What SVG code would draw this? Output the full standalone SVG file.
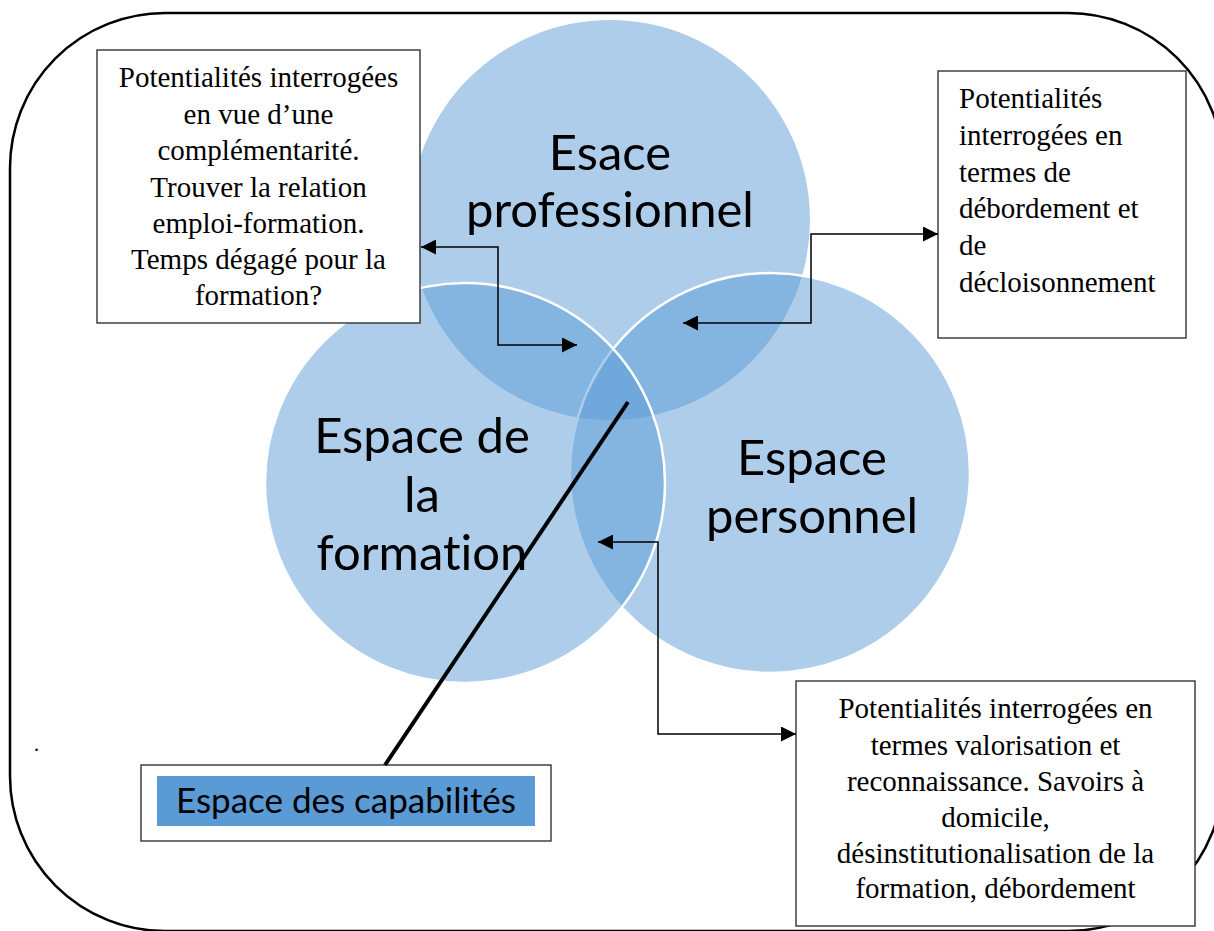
<svg xmlns="http://www.w3.org/2000/svg" width="1214" height="931" viewBox="0 0 1214 931">
<style>
.frame{fill:none;stroke:#000;stroke-width:2.5}
.circ{fill:#5b9bd5;fill-opacity:0.5}
.ring{stroke:#fff;stroke-width:2.5}
.lbl{font-family:Lato,"Liberation Sans",sans-serif;font-size:49px;fill:#000;text-anchor:middle;font-variant-ligatures:none}
.box{fill:#fff;stroke:#333;stroke-width:1.4}
.serif{font-family:"Liberation Serif","Times New Roman",serif;font-size:29px;fill:#000}
.mid{text-anchor:middle}
.conn{fill:none;stroke:#000;stroke-width:1.5}
.diag{stroke:#000;stroke-width:4}
</style>
<defs>
<marker id="arr" markerUnits="userSpaceOnUse" markerWidth="15" markerHeight="15" refX="15" refY="7.5" orient="auto-start-reverse">
<path d="M0,0 L15,7.5 L0,15 z" fill="#000"/>
</marker>
</defs>
<rect class="frame" x="10" y="13" width="1213" height="918" rx="155" ry="155"/>
<text x="34" y="751" font-family="Liberation Serif, serif" font-size="20" fill="#000">.</text>
<g id="circle-pro">
<circle class="circ" cx="610" cy="220" r="200"/>
</g>
<g id="circle-perso">
<circle class="circ ring" cx="770" cy="473" r="200"/>
</g>
<g id="circle-formation">
<circle class="circ ring" cx="465" cy="483" r="200"/>
</g>
<g id="labels-circles">
<text class="lbl" x="610" y="170">Esace</text>
<text class="lbl" x="610" y="227">professionnel</text>
<text class="lbl" x="422" y="453">Espace de</text>
<text class="lbl" x="422" y="512">la</text>
<text class="lbl" x="422" y="570">formation</text>
<text class="lbl" x="812" y="475">Espace</text>
<text class="lbl" x="812" y="533">personnel</text>
</g>
<g id="box-topleft">
<rect class="box" x="97" y="50" width="323" height="273"/>
<text class="serif mid" x="258.5" y="87">Potentialités interrogées</text>
<text class="serif mid" x="258.5" y="124">en vue d’une</text>
<text class="serif mid" x="258.5" y="160">complémentarité.</text>
<text class="serif mid" x="258.5" y="197">Trouver la relation</text>
<text class="serif mid" x="258.5" y="233">emploi-formation.</text>
<text class="serif mid" x="258.5" y="269">Temps dégagé pour la</text>
<text class="serif mid" x="258.5" y="305">formation?</text>
</g>
<g id="box-topright">
<rect class="box" x="938" y="71" width="248" height="267"/>
<text class="serif" x="959" y="108">Potentialités</text>
<text class="serif" x="959" y="145">interrogées en</text>
<text class="serif" x="959" y="182">termes de</text>
<text class="serif" x="959" y="218">débordement et</text>
<text class="serif" x="959" y="255">de</text>
<text class="serif" x="959" y="292">décloisonnement</text>
</g>
<g id="box-bottomright">
<rect class="box" x="796" y="681" width="399" height="245"/>
<text class="serif mid" x="995.5" y="718">Potentialités interrogées en</text>
<text class="serif mid" x="995.5" y="755">termes valorisation et</text>
<text class="serif mid" x="995.5" y="791">reconnaissance. Savoirs à</text>
<text class="serif mid" x="995.5" y="827">domicile,</text>
<text class="serif mid" x="995.5" y="863">désinstitutionalisation de la</text>
<text class="serif mid" x="995.5" y="898">formation, débordement</text>
</g>
<g id="box-capabilites">
<rect class="box" x="141" y="765" width="410" height="76"/>
<rect x="157" y="776" width="378" height="50" fill="#5b9bd5"/>
<text x="346" y="813" font-family="Lato, 'Liberation Sans', sans-serif" font-size="35" fill="#000" text-anchor="middle" style="font-variant-ligatures:none">Espace des capabilités</text>
</g>
<g id="connectors">
<line class="diag" x1="628" y1="402" x2="385" y2="765"/>
<path class="conn" d="M421,247 H498 V345 H577" marker-start="url(#arr)" marker-end="url(#arr)"/>
<path class="conn" d="M683,323 H811 V234 H938" marker-start="url(#arr)" marker-end="url(#arr)"/>
<path class="conn" d="M598,542 H658 V734 H796" marker-start="url(#arr)" marker-end="url(#arr)"/>
</g>
</svg>
